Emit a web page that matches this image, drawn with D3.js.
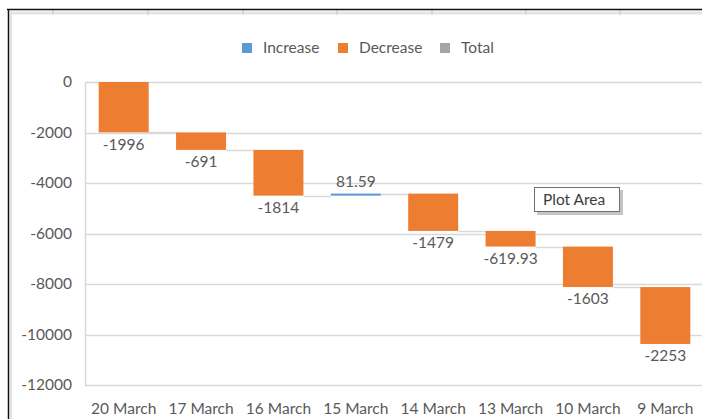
<!DOCTYPE html>
<html>
<head>
<meta charset="utf-8">
<script src="https://cdn.jsdelivr.net/npm/d3@7"></script>
<style>
  html, body { margin: 0; padding: 0; background: #fff; }
  svg { display: block; }
  text { font-family: Lato, "Open Sans", sans-serif; fill: #595959; }
</style>
</head>
<body>
<svg id="chart" width="702" height="419"></svg>
<script>
"use strict";

// waterfall data
const categories = ['20 March', '17 March', '16 March', '15 March', '14 March', '13 March', '10 March', '9 March'];
const changes = [-1996, -691, -1814, 81.59, -1479, -619.93, -1603, -2253];
const labels = ['-1996', '-691', '-1814', '81.59', '-1479', '-619.93', '-1603', '-2253'];
const yTicks = [0, -2000, -4000, -6000, -8000, -10000, -12000];
const legendItems = ['Increase', 'Decrease', 'Total'];

const colors = {Increase: '#5b9bd5', Decrease: '#ed7d31', Total: '#a5a5a5'};
const gridColor = '#d9d9d9';

const svg = d3.select('#chart');
const W = 702, H = 419;
const plot = {left: 85, right: 704, top: 82, bottom: 385};

// spreadsheet frame around the chart object
const frame = svg.append('g');
frame.append('line').attr('x1', 10).attr('x2', W).attr('y1', 13).attr('y2', 13)
  .attr('stroke', '#e4e4e4').attr('stroke-width', 3);
[53, 148, 243, 337, 432, 526, 620].forEach(x => {
  frame.append('line').attr('x1', x).attr('x2', x).attr('y1', 10).attr('y2', 15)
    .attr('stroke', '#c8c8c8').attr('stroke-width', 1);
});
frame.append('line').attr('x1', 11).attr('x2', 11).attr('y1', 11).attr('y2', H)
  .attr('stroke', '#e4e4e4').attr('stroke-width', 2);
frame.append('line').attr('x1', 7).attr('x2', W).attr('y1', 9.5).attr('y2', 9.5)
  .attr('stroke', '#111').attr('stroke-width', 1.5);
frame.append('line').attr('x1', 8.5).attr('x2', 8.5).attr('y1', 9).attr('y2', H)
  .attr('stroke', '#111').attr('stroke-width', 1.5);

// running totals
const steps = [];
let run = 0;
changes.forEach((v, i) => {
  const start = run;
  run += v;
  steps.push({cat: categories[i], start, end: run, value: v, label: labels[i]});
});

const x = d3.scaleBand().domain(categories).range([plot.left, plot.right]).paddingInner(0.354).paddingOuter(0.177);
const y = d3.scaleLinear().domain([-12000, 0]).range([plot.bottom, plot.top]);

// gridlines
svg.append('g')
  .selectAll('line').data(yTicks).enter().append('line')
  .attr('x1', plot.left).attr('x2', W)
  .attr('y1', d => Math.round(y(d)) + 0.5).attr('y2', d => Math.round(y(d)) + 0.5)
  .attr('stroke', gridColor).attr('stroke-width', 1.5);

// vertical axis line
svg.append('line')
  .attr('x1', plot.left + 0.5).attr('x2', plot.left + 0.5)
  .attr('y1', y(0)).attr('y2', y(-12000))
  .attr('stroke', gridColor).attr('stroke-width', 1.5);

// y axis labels (plain hyphen minus like Excel)
const yAxis = d3.axisLeft(y).tickValues(yTicks).tickSize(0).tickPadding(13).tickFormat(d => String(d));
const gy = svg.append('g').attr('transform', `translate(${plot.left},0)`).call(yAxis);
gy.select('.domain').remove();
gy.selectAll('text').style('font-family', 'Lato, sans-serif').style('font-size', '15.5px').attr('fill', '#595959');

// x axis labels
const xAxis = d3.axisBottom(x).tickSize(0).tickPadding(0);
const gx = svg.append('g').attr('transform', `translate(0,${plot.bottom + 18})`).call(xAxis);
gx.select('.domain').remove();
gx.selectAll('text').style('font-family', 'Lato, sans-serif').style('font-size', '15.5px').attr('fill', '#595959');

// connectors between bars
svg.append('g')
  .selectAll('line').data(steps.slice(0, -1)).enter().append('line')
  .attr('x1', d => x(d.cat) + x.bandwidth())
  .attr('x2', (d, i) => x(categories[i + 1]))
  .attr('y1', d => Math.round(y(d.end)) + 0.5)
  .attr('y2', d => Math.round(y(d.end)) + 0.5)
  .attr('stroke', gridColor).attr('stroke-width', 1.5);

// bars
svg.append('g')
  .selectAll('rect').data(steps).enter().append('rect')
  .attr('x', d => x(d.cat))
  .attr('width', x.bandwidth())
  .attr('y', d => y(Math.max(d.start, d.end)))
  .attr('height', d => Math.max(1.5, Math.abs(y(d.start) - y(d.end))))
  .attr('fill', d => d.value >= 0 ? colors.Increase : colors.Decrease);

// data labels
svg.append('g')
  .selectAll('text').data(steps).enter().append('text')
  .attr('x', d => x(d.cat) + x.bandwidth() / 2)
  .attr('y', d => d.value >= 0 ? y(d.end) - 12 : y(d.end) + 12)
  .attr('dy', '0.35em')
  .attr('text-anchor', 'middle')
  .style('font-size', '15.5px')
  .text(d => d.label);

// legend
const legend = svg.append('g');
const legendX = [242, 338, 440];
legendItems.forEach((name, i) => {
  legend.append('rect').attr('x', legendX[i]).attr('y', 43).attr('width', 10).attr('height', 10)
    .attr('fill', colors[name]);
  legend.append('text').attr('x', legendX[i] + 21).attr('y', 48).attr('dy', '0.35em')
    .style('font-size', '15.5px').text(name);
});

// "Plot Area" hover tip
const tip = svg.append('g');
tip.append('rect').attr('x', 537).attr('y', 190).attr('width', 86).attr('height', 25).attr('fill', '#c4c4c4');
tip.append('rect').attr('x', 534.5).attr('y', 187.5).attr('width', 85).attr('height', 24)
  .attr('fill', '#fff').attr('stroke', '#707070').attr('stroke-width', 1);
tip.append('text').attr('x', 543).attr('y', 200).attr('dy', '0.35em')
  .style('font-size', '15.5px').style('fill', '#3c3c3c').text('Plot Area');
</script>
</body>
</html>
